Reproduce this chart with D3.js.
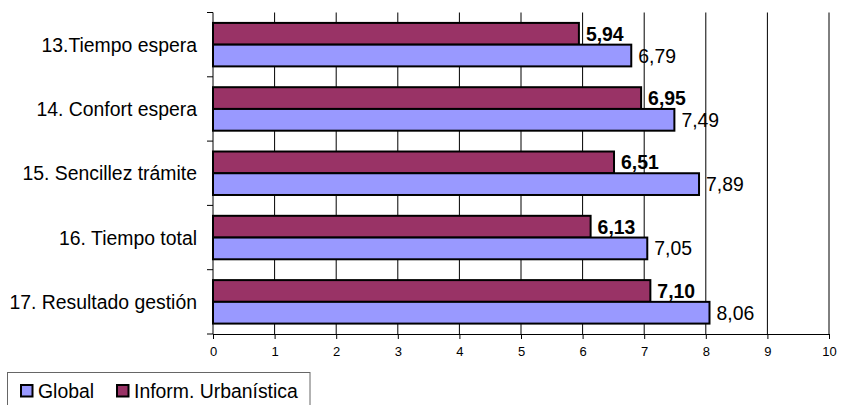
<!DOCTYPE html>
<html>
<head>
<meta charset="utf-8">
<script src="https://cdn.jsdelivr.net/npm/d3@7"></script>
<style>
  html, body { margin: 0; padding: 0; background: #fff; }
  svg { display: block; font-family: "Liberation Sans", Arial, sans-serif; }
</style>
</head>
<body>
<svg id="chart" width="841" height="405"></svg>
<script>
const categories = ["13.Tiempo espera", "14. Confort espera", "15. Sencillez trámite", "16. Tiempo total", "17. Resultado gestión"];
const seriesNames = ["Inform. Urbanística", "Global"];
const informValues = [5.94, 6.95, 6.51, 6.13, 7.10];
const globalValues = [6.79, 7.49, 7.89, 7.05, 8.06];
const xTicks = [0, 1, 2, 3, 4, 5, 6, 7, 8, 9, 10];
const legendOrder = ["Global", "Inform. Urbanística"];

const colors = { "Global": "#9999FF", "Inform. Urbanística": "#993366" };
const bold = { "Global": false, "Inform. Urbanística": true };

const svg = d3.select("#chart");
const margin = { top: 12.5, right: 12, bottom: 71, left: 213 };
const W = 841, H = 405;
const iw = W - margin.left - margin.right;
const ih = H - margin.top - margin.bottom;
const FS = 19.4;

const x = d3.scaleLinear().domain([0, 10]).range([0, iw]);
const y0 = d3.scaleBand().domain(categories).range([0, ih]).padding(0);
const y1 = d3.scaleBand().domain(seriesNames).range([0, y0.bandwidth()]).paddingInner(0).paddingOuter(0.479);

const g = svg.append("g").attr("transform", `translate(${margin.left},${margin.top})`);

// vertical gridlines
g.append("g").selectAll("line").data(xTicks.filter(d => d > 0)).join("line")
  .attr("x1", d => x(d)).attr("x2", d => x(d))
  .attr("y1", 0).attr("y2", ih)
  .attr("stroke", "#000").attr("stroke-width", 1);

const fmt = v => v.toFixed(2).replace(".", ",");

const data = categories.map((c, i) => ({
  cat: c,
  vals: [
    { s: "Inform. Urbanística", v: informValues[i] },
    { s: "Global", v: globalValues[i] }
  ]
}));

const groups = g.selectAll("g.cat").data(data).join("g")
  .attr("class", "cat")
  .attr("transform", d => `translate(0,${y0(d.cat)})`);

groups.selectAll("rect").data(d => d.vals).join("rect")
  .attr("x", x(0))
  .attr("y", d => y1(d.s))
  .attr("width", d => x(d.v) - x(0))
  .attr("height", y1.bandwidth())
  .attr("fill", d => colors[d.s])
  .attr("stroke", "#000")
  .attr("stroke-width", 2);

groups.selectAll("text").data(d => d.vals).join("text")
  .attr("x", d => x(d.v) + 7)
  .attr("y", d => y1(d.s) + y1.bandwidth() / 2)
  .attr("dy", "0.36em")
  .attr("font-size", FS)
  .attr("font-weight", d => bold[d.s] ? "bold" : "normal")
  .attr("fill", "#000")
  .text(d => fmt(d.v));

// left axis
const yAxis = g.append("g");
yAxis.append("line").attr("x1", 0).attr("x2", 0).attr("y1", 0).attr("y2", ih)
  .attr("stroke", "#000").attr("stroke-width", 1);
const bounds = categories.map(c => y0(c)).concat([ih]);
yAxis.selectAll("line.tick").data(bounds).join("line").attr("class", "tick")
  .attr("x1", -6).attr("x2", 0).attr("y1", d => d).attr("y2", d => d)
  .attr("stroke", "#000").attr("stroke-width", 1);
yAxis.selectAll("text").data(categories).join("text")
  .attr("x", -16)
  .attr("y", d => y0(d) + y0.bandwidth() / 2)
  .attr("dy", "0.36em")
  .attr("text-anchor", "end")
  .attr("font-size", FS)
  .attr("fill", "#000")
  .text(d => d);

// bottom axis
const xAxis = d3.axisBottom(x).tickValues(xTicks).tickSize(5).tickPadding(8).tickFormat(d3.format("d"));
const xg = g.append("g").attr("transform", `translate(0,${ih})`).call(xAxis);
xg.select(".domain").attr("stroke", "#000");
xg.selectAll(".tick line").attr("stroke", "#000");
xg.selectAll(".tick text").attr("font-size", 13).attr("fill", "#000")
  .attr("font-family", "'Liberation Sans', Arial, sans-serif");

// legend
const lg = svg.append("g");
lg.append("rect").attr("x", 7.5).attr("y", 372.5).attr("width", 302.5).attr("height", 45)
  .attr("fill", "#fff").attr("stroke", "#666").attr("stroke-width", 1);
const legendX = [21, 117];
const items = lg.selectAll("g.item").data(legendOrder).join("g").attr("class", "item")
  .attr("transform", (d, i) => `translate(${legendX[i]},385)`);
items.append("rect").attr("x", 0).attr("y", 0).attr("width", 11.5).attr("height", 11.5)
  .attr("fill", d => colors[d]).attr("stroke", "#000").attr("stroke-width", 2);
items.append("text").attr("x", 17).attr("y", 6).attr("dy", "0.36em")
  .attr("font-size", FS).attr("fill", "#000").text(d => d);
</script>
</body>
</html>
